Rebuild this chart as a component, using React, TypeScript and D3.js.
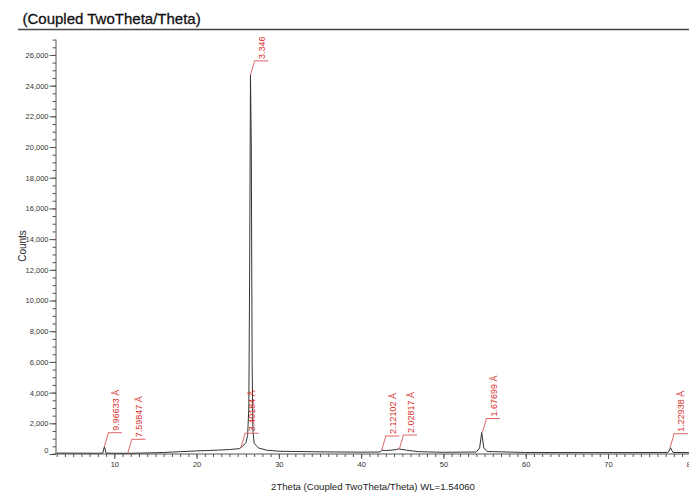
import { useEffect, useRef } from "react";
import * as d3 from "d3";

// diffractogram: 2theta (deg) and counts
const twoTheta = [
  3, 5, 8, 8.6, 8.8, 9.0, 10, 11.6, 12, 14, 16, 18, 20, 22, 24, 25.2, 25.6, 26.0,
  26.2, 26.35, 26.45, 26.55, 26.65, 26.75, 26.85, 27.0, 27.5, 28.5, 30, 35, 40,
  42.3, 42.55, 43, 44, 44.6, 45.5, 47, 50, 54, 54.4, 54.65, 54.9, 55.3, 60, 70,
  77.3, 77.6, 77.9, 80.5,
];
const counts = [
  60, 55, 50, 60, 480, 60, 50, 45, 50, 70, 100, 150, 200, 240, 290, 350, 500, 750,
  1200, 3000, 12000, 24700, 20000, 6000, 1500, 700, 400, 250, 180, 140, 120,
  130, 250, 220, 270, 330, 250, 150, 110, 130, 400, 1400, 400, 160, 100, 90,
  100, 400, 100, 90,
];

// peak markers: where the leader starts, and the d-spacing text
const peakAngles = [8.79, 11.63, 25.4, 26.55, 42.5, 44.64, 54.73, 77.54];
const peakCounts = [475, 45, 440, 24700, 260, 325, 1400, 410];
const peakLabels = [
  "9.96633 Å",
  "7.59847 Å",
  "3.40184 Å",
  "3.346",
  "2.12102 Å",
  "2.02817 Å",
  "1.67699 Å",
  "1.22938 Å",
];

const xMajor = [10, 20, 30, 40, 50, 60, 70, 80];
const yMajor = [0, 2000, 4000, 6000, 8000, 10000, 12000, 14000, 16000, 18000, 20000, 22000, 24000, 26000];

const font = "'Liberation Sans', Arial, Helvetica, sans-serif";

export default function App() {
  const ref = useRef<SVGSVGElement>(null);

  useEffect(() => {
    const svg = d3.select(ref.current);
    svg.selectAll("*").remove();

    const x = d3.scaleLinear().domain([3, 80.5]).range([56.7, 694.4]);
    const y = d3.scaleLinear().domain([0, 27000]).range([454, 39.6]);

    // title and rule
    svg
      .append("text")
      .attr("x", 22.5)
      .attr("y", 23.5)
      .attr("font-family", font)
      .attr("font-size", 15)
      .attr("fill", "#111")
      .attr("stroke", "#111")
      .attr("stroke-width", 0.3)
      .text("(Coupled TwoTheta/Theta)");
    svg
      .append("line")
      .attr("x1", 18)
      .attr("x2", 689)
      .attr("y1", 29.5)
      .attr("y2", 29.5)
      .attr("stroke", "#444")
      .attr("stroke-width", 1.3);

    // y axis
    const yMinor = d3.range(0, 27001, 500);
    const gyMinor = svg
      .append("g")
      .attr("transform", "translate(56,0)")
      .call(d3.axisLeft(y).tickValues(yMinor).tickSize(3.5).tickFormat(() => ""));
    gyMinor.select(".domain").remove();

    const gy = svg
      .append("g")
      .attr("transform", "translate(56,0)")
      .call(
        d3
          .axisLeft(y)
          .tickValues(yMajor)
          .tickSize(6.5)
          .tickPadding(1)
          .tickFormat((d) => d3.format(",")(d as number))
      );
    gy.select(".domain").attr("d", `M0,${y(27000)}V${y(0)}`);
    gy.selectAll("text")
      .attr("font-family", font)
      .attr("font-size", 7.5)
      .attr("fill", "#333")
      .attr("dy", (d) => (d === 0 ? "-0.2em" : "0.32em"));

    // x axis
    const xMinor = d3.range(3, 81, 1);
    const gxMinor = svg
      .append("g")
      .attr("transform", "translate(0,454)")
      .call(d3.axisBottom(x).tickValues(xMinor).tickSize(3).tickFormat(() => ""));
    gxMinor.select(".domain").remove();

    const gx = svg
      .append("g")
      .attr("transform", "translate(0,454)")
      .call(d3.axisBottom(x).tickValues(xMajor).tickSize(5).tickPadding(3));
    gx.select(".domain").attr("d", `M53,0H694`);
    gx.selectAll("text")
      .attr("font-family", font)
      .attr("font-size", 7.5)
      .attr("fill", "#333");

    svg.selectAll(".domain, .tick line").attr("stroke", "#555").attr("stroke-width", 1);

    // axis titles
    svg
      .append("text")
      .attr("transform", "translate(25.5,246) rotate(-90)")
      .attr("text-anchor", "middle")
      .attr("font-family", font)
      .attr("font-size", 10)
      .attr("fill", "#222")
      .text("Counts");
    svg
      .append("text")
      .attr("x", 373)
      .attr("y", 490)
      .attr("text-anchor", "middle")
      .attr("font-family", font)
      .attr("font-size", 9.6)
      .attr("fill", "#222")
      .text("2Theta (Coupled TwoTheta/Theta) WL=1.54060");

    // pattern
    const pts = twoTheta.map((t, i) => [t, counts[i]] as [number, number]);
    const line = d3
      .line<[number, number]>()
      .x((d) => x(d[0]))
      .y((d) => y(d[1]));
    svg
      .append("path")
      .attr("d", line(pts))
      .attr("fill", "none")
      .attr("stroke", "#333")
      .attr("stroke-width", 1);

    // peak labels
    const g = svg.append("g");
    peakAngles.forEach((a, i) => {
      const px = x(a);
      const py = y(peakCounts[i]);
      const hx = px + 3.7;
      const hy = py - 14;
      g.append("path")
        .attr("d", `M${px},${py}L${hx},${hy + 1.5}V${hy}H${hx + 14}`)
        .attr("fill", "none")
        .attr("stroke", "#e06666")
        .attr("stroke-width", 1);
      g.append("text")
        .attr("transform", `translate(${hx + 10.5},${hy - 2}) rotate(-90)`)
        .attr("font-family", font)
        .attr("font-size", 9)
        .attr("fill", "#d9302c")
        .text(peakLabels[i]);
    });
  }, []);

  return (
    <svg
      ref={ref}
      width={689}
      height={492}
      style={{ position: "absolute", left: 0, top: 0, background: "#fff" }}
    />
  );
}
